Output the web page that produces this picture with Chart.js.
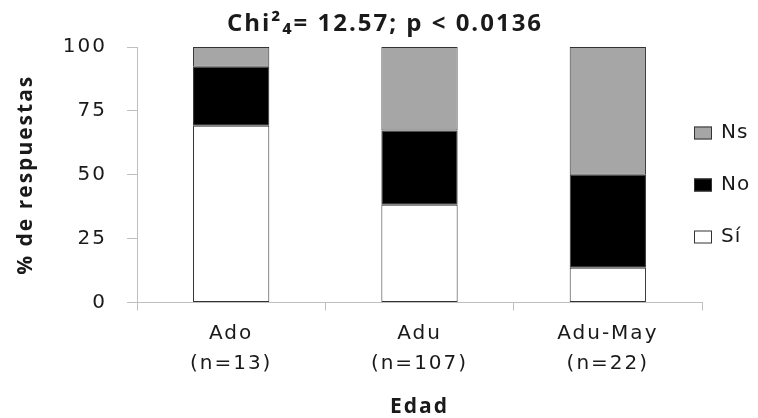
<!DOCTYPE html>
<html>
<head>
<meta charset="utf-8">
<script src="https://cdn.jsdelivr.net/npm/chart.js@4"></script>
<style>
  html, body { margin: 0; padding: 0; background: #fff; }
  #chart { display: block; }
</style>
</head>
<body>
<canvas id="chart" width="758" height="418"></canvas>
<script>
// --- Data (percent of answers per age group) ---
const groups = [['Ado', '(n=13)'], ['Adu', '(n=107)'], ['Adu-May', '(n=22)']];
const si = [69.2, 38.3, 13.6];
const no = [23.1, 29.0, 36.4];
const ns = [7.7, 32.7, 50.0];
const yTicks = [0, 25, 50, 75, 100];

const AXIS = '#bfbfbf';
const EDGE = '#333333';
const TEXT = '#1a1a1a';

// Excel-like wide text
const spacing = {
  id: 'spacing',
  beforeUpdate(chart) { chart.ctx.letterSpacing = '2px'; },
  beforeDraw(chart) { chart.ctx.letterSpacing = '2px'; }
};

// legend on the right, Ns on top (drawn over the plot's right margin like Excel)
const sideLegend = {
  id: 'sideLegend',
  afterDraw(chart) {
    const ctx = chart.ctx;
    const sets = chart.data.datasets.slice().reverse();
    ctx.save();
    ctx.font = '20px "DejaVu Sans"';
    ctx.letterSpacing = '1px';
    ctx.textBaseline = 'middle';
    sets.forEach((ds, i) => {
      const cy = 133 + i * 52;
      ctx.fillStyle = ds.backgroundColor;
      ctx.fillRect(694, cy - 6.5, 18, 13);
      ctx.strokeStyle = ds.borderColor;
      ctx.lineWidth = 1;
      ctx.strokeRect(694.5, cy - 6, 17, 12);
      ctx.fillStyle = TEXT;
      ctx.fillText(ds.label, 721, cy);
    });
    ctx.restore();
  }
};

const bar = { borderColor: EDGE, borderWidth: 1, borderSkipped: false, barPercentage: 0.405, categoryPercentage: 1 };

new Chart(document.getElementById('chart'), {
  type: 'bar',
  data: {
    labels: groups,
    datasets: [
      { label: 'Sí', data: si, backgroundColor: '#ffffff', ...bar },
      { label: 'No', data: no, backgroundColor: '#000000', ...bar },
      { label: 'Ns', data: ns, backgroundColor: '#a6a6a6', ...bar }
    ]
  },
  options: {
    responsive: false,
    animation: false,
    layout: { padding: { left: 12, right: 0, top: 0, bottom: 0 } },
    plugins: {
      legend: { display: false },
      tooltip: { enabled: false },
      title: {
        display: true,
        text: 'Chi²₄= 12.57; p < 0.0136',
        color: TEXT,
        font: { family: '"Open Sans"', size: 24, weight: 'bold', lineHeight: 1.2 },
        padding: { top: 9.5, bottom: 8.7 }
      }
    },
    scales: {
      x: {
        stacked: true,
        grid: { offset: true, drawOnChartArea: false, drawTicks: true, tickLength: 8, color: AXIS },
        border: { color: AXIS },
        ticks: { color: TEXT, padding: 8.5, font: { family: '"DejaVu Sans"', size: 20, lineHeight: 1.5 } },
        title: {
          display: true, text: 'Edad', color: TEXT,
          font: { family: '"Open Sans"', size: 21, weight: 'bold', lineHeight: 1 },
          padding: { top: 0, bottom: 0 }
        },
        afterFit(s) { s.height = 115.5; }
      },
      y: {
        stacked: true,
        min: 0,
        max: 100,
        afterBuildTicks(s) { s.ticks = yTicks.map(v => ({ value: v })); },
        grid: { drawOnChartArea: false, drawTicks: true, tickLength: 10, color: AXIS },
        border: { color: AXIS },
        ticks: { color: TEXT, padding: 20, font: { family: '"DejaVu Sans"', size: 20 } },
        title: {
          display: true, text: '% de respuestas', color: TEXT,
          font: { family: '"Open Sans"', size: 21, weight: 'bold' },
          padding: { top: 1.5, bottom: 0 }
        },
        afterFit(s) { s.width = 125; }
      },
      y2: {
        position: 'right',
        display: true,
        grid: { display: false },
        border: { display: false },
        ticks: { display: false },
        afterFit(s) { s.width = 56; }
      }
    }
  },
  plugins: [spacing, sideLegend]
});
</script>
</body>
</html>
